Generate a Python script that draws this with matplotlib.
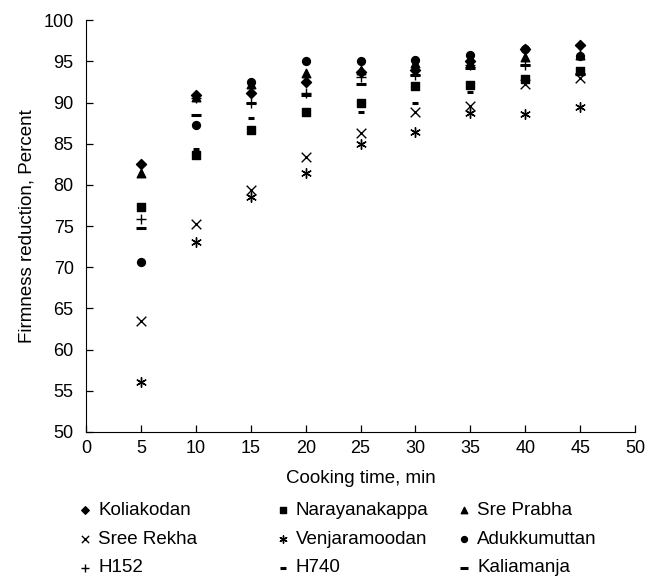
import matplotlib.pyplot as plt

plt.rcParams['font.family'] = ['Liberation Sans', 'DejaVu Sans']

# cooking time (min) and firmness reduction (%) per variety
cooking_time = [5, 10, 15, 20, 25, 30, 35, 40, 45]

koliakodan = [82.5, 90.9, 91.1, 92.5, 93.7, 94.0, 95.0, 96.5, 97.0]
narayanakappa = [77.3, 83.6, 86.7, 88.8, 90.0, 92.0, 92.1, 92.9, 93.8]
sre_prabha = [81.5, 90.7, 92.2, 93.6, 94.0, 94.8, 94.8, 95.5, 95.8]
sree_rekha = [63.5, 75.2, 79.4, 83.4, 86.3, 88.8, 89.6, 92.3, 93.0]
venjaramoodan = [56.1, 73.1, 78.5, 81.5, 85.0, 86.4, 88.7, 88.6, 89.5]
adukkumuttan = [70.6, 87.3, 92.5, 95.0, 95.1, 95.2, 95.8, 96.5, 95.6]
h152 = [75.8, 90.5, 90.0, 91.1, 93.1, 93.3, 94.5, 94.6, 97.0]
h740 = [70.7, 84.3, 88.1, 88.5, 88.9, 90.0, 91.3, 92.5, 93.5]
kaliamanja = [74.8, 88.5, 90.0, 90.9, 92.2, 93.3, 94.2, 94.6, 93.5]

series = [
    ("Koliakodan", koliakodan, dict(marker="D", s=26)),
    ("Narayanakappa", narayanakappa, dict(marker="s", s=34)),
    ("Sre Prabha", sre_prabha, dict(marker="^", s=38)),
    ("Sree Rekha", sree_rekha, dict(marker="x", s=48, linewidths=1.0)),
    ("Venjaramoodan", venjaramoodan, dict(marker=(6, 2, 0), s=48, linewidths=1.0)),
    ("Adukkumuttan", adukkumuttan, dict(marker="o", s=32)),
    ("H152", h152, dict(marker="+", s=58, linewidths=1.0)),
    ("H740", h740, dict(marker="_", s=25, linewidths=2.2)),
    ("Kaliamanja", kaliamanja, dict(marker="_", s=60, linewidths=2.2)),
]

fig = plt.figure(figsize=(6.48, 5.76), dpi=100)
ax = fig.add_axes([0.133, 0.25, 0.847, 0.715])

handles = {}
for name, vals, style in series:
    handles[name] = ax.scatter(cooking_time, vals, color="black", label=name, **style)

ax.set_xlim(0, 50)
ax.set_ylim(50, 100)
ax.set_xticks(range(0, 51, 5))
ax.set_yticks(range(50, 101, 5))
ax.tick_params(direction="in", length=5, labelsize=13, width=0.9, pad=6)
ax.tick_params(axis="y", pad=9)
ax.spines["top"].set_visible(False)
ax.spines["right"].set_visible(False)
ax.set_xlabel("Cooking time, min", fontsize=13.5, labelpad=9)
ax.set_ylabel("Firmness reduction, Percent", fontsize=13.5, labelpad=6)

# legend in three fixed columns, rows read across as in the original
columns = [
    (0.105, ["Koliakodan", "Sree Rekha", "H152"]),
    (0.41, ["Narayanakappa", "Venjaramoodan", "H740"]),
    (0.69, ["Sre Prabha", "Adukkumuttan", "Kaliamanja"]),
]
for x0, names in columns:
    fig.legend([handles[n] for n in names], names, loc="upper left",
               bbox_to_anchor=(x0, 0.145), frameon=False, fontsize=13.5,
               handlelength=0.8, handletextpad=0.3, labelspacing=0.62,
               markerscale=0.75, borderpad=0)

fig.savefig("out.png", dpi=100)
